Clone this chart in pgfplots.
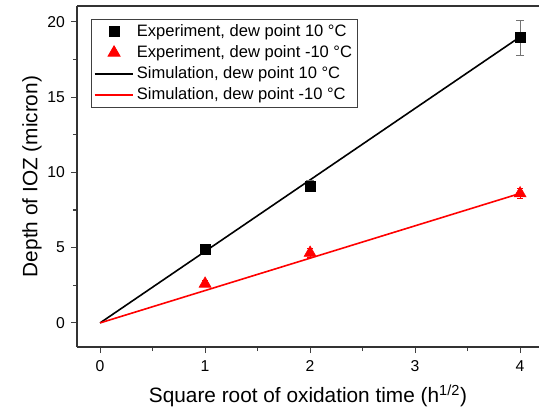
\documentclass[border=0pt]{standalone}
\usepackage{fontspec}
\setmainfont{Liberation Sans}
\usepackage{pgfplots}
\pgfplotsset{compat=1.18}
\pgfplotsset{
  mylinelegend/.style={legend image code/.code={\draw[##1] plot coordinates {(0pt,0pt) (29pt,0pt)};}},
  mymarklegend/.style={legend image code/.code={\draw[##1] plot coordinates {(14.5pt,0pt)};}},
}
\begin{document}
\begin{tikzpicture}
\begin{axis}[
  scale only axis,
  width=346.5pt, height=255.75pt,
  xmin=-0.22, xmax=4.18,
  ymin=-1.6, ymax=21.05,
  xtick={0,1,2,3,4},
  ytick={0,5,10,15,20},
  minor xtick={0.5,1.5,2.5,3.5},
  minor ytick={2.5,7.5,12.5,17.5},
  tick align=outside,
  xtick pos=bottom, ytick pos=left,
  major tick length=4.5pt, minor tick length=3pt,
  tick style={line width=0.8pt, black!75},
  axis line style={line width=1.1pt, black!80},
  separate axis lines,
  axis x line*=bottom, axis y line*=left,
  /pgf/number format/assume math mode=true,
  ticklabel style={font=\fontsize{11.8pt}{13pt}\selectfont},
  xticklabel style={yshift=-2pt},
  yticklabel style={xshift=-1pt},
  xlabel={Square root of oxidation time (h\textsuperscript{1/2})},
  ylabel={Depth of IOZ (micron)},
  label style={font=\fontsize{15.6pt}{18pt}\selectfont},
  xlabel style={at={(axis description cs:0.5,0)}, anchor=center, yshift=-37pt},
  ylabel style={at={(axis description cs:0,0.5)}, anchor=center, yshift=33.75pt},
  legend style={at={(0.03,0.962)}, anchor=north west, draw=black!75, line width=0.6pt,
    font=\fontsize{12.4pt}{14pt}\selectfont, row sep=1.3pt, inner sep=2pt},
  legend cell align=left,
  clip=false,
]
\addplot[black, line width=1.2pt, forget plot] coordinates {(0,0) (4,19.0)};
\addplot[red, line width=1.2pt, forget plot] coordinates {(0,0) (4,8.6)};
\addplot[only marks, mark=square*, mark size=3.8pt, black, mymarklegend,
  error bars/.cd, y dir=both, y explicit,
  error bar style={black!55, line width=0.6pt},
  error mark options={rotate=90, mark size=3pt, black!55, line width=0.6pt}]
  coordinates {(1,4.9) +- (0,0.15) (2,9.1) +- (0,0.35) (4,18.95) +- (0,1.15)};
\addlegendentry{Experiment, dew point 10 °C}
\addplot[only marks, mark=triangle*, mark size=5.2pt, red, mymarklegend,
  error bars/.cd, y dir=both, y explicit,
  error bar style={red, line width=0.6pt},
  error mark options={rotate=90, mark size=2pt, red, line width=0.6pt}]
  coordinates {(1,2.6) +- (0,0.2) (2,4.65) +- (0,0.3) (4,8.6) +- (0,0.35)};
\addlegendentry{Experiment, dew point -10 °C}
\addlegendimage{black, line width=1.2pt, mylinelegend}
\addlegendentry{Simulation, dew point 10 °C}
\addlegendimage{red, line width=1.2pt, mylinelegend}
\addlegendentry{Simulation, dew point -10 °C}
\draw[line width=1.1pt, black!80] (rel axis cs:0,1) -- (rel axis cs:1,1);
\coordinate (sw) at (rel axis cs:0,0);
\coordinate (ne) at (rel axis cs:1,1);
\end{axis}
\pgfresetboundingbox
\path ([xshift=-57.75pt,yshift=-50.25pt]sw) rectangle ([yshift=4.5pt]ne);
\end{tikzpicture}
\end{document}
